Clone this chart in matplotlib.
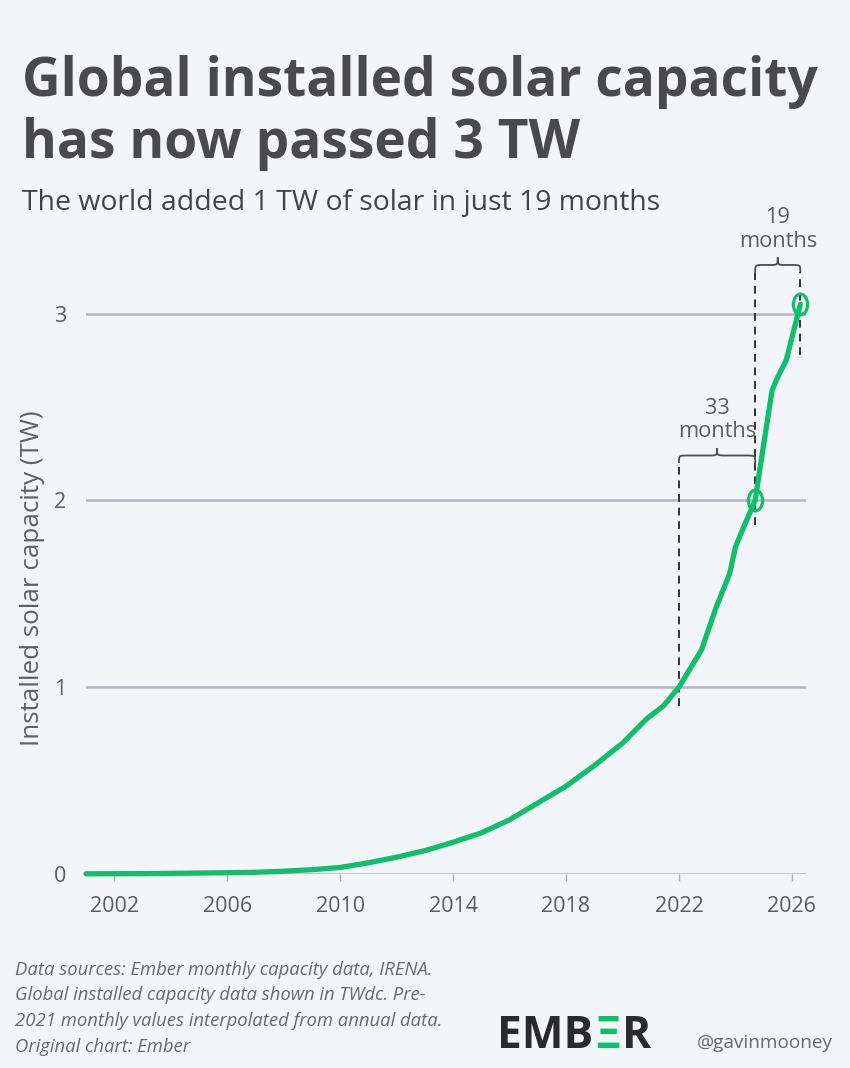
import matplotlib
matplotlib.use("Agg")
import matplotlib.pyplot as plt
from matplotlib import font_manager
from matplotlib.path import Path
from matplotlib.patches import PathPatch
from matplotlib.transforms import Affine2D

# global installed solar capacity (TW)
years = [2001, 2003, 2005, 2007, 2008, 2009, 2010, 2011, 2012, 2013,
         2014, 2015, 2016, 2017, 2018, 2019, 2020, 2020.85, 2021.45, 2022.0,
         2022.8, 2023.3, 2023.8, 2024.0, 2024.3, 2024.7, 2024.95, 2025.3,
         2025.5, 2025.8, 2026.1, 2026.3]
capacity = [0.001, 0.002, 0.005, 0.009, 0.015, 0.023, 0.035, 0.06, 0.09, 0.125,
            0.17, 0.22, 0.29, 0.38, 0.47, 0.58, 0.70, 0.83, 0.90, 1.0,
            1.2, 1.42, 1.61, 1.75, 1.86, 2.0, 2.25, 2.59,
            2.66, 2.75, 2.93, 3.05]

# milestones (2 TW and 3 TW) and the gaps between them
milestone_x = [2024.7, 2026.3]
milestone_y = [2.0, 3.05]
gap_start = [2022.0, 2024.7]
gap_end = [2024.7, 2026.3]
gap_labels = ["33\nmonths", "19\nmonths"]
gap_level = [2.2, 3.22]
dash_x = [2022.0, 2024.7, 2026.3]
dash_lo = [0.9, 1.87, 2.78]
dash_hi = [2.2, 3.22, 3.22]

xticks = [2002, 2006, 2010, 2014, 2018, 2022, 2026]
yticks = [0, 1, 2, 3]

BG = "#f4f5f9"
GREEN = "#0fbf6c"
DARK = "#4a4a4c"
GREY = "#5c5c5e"
GRID = "#b3b6c2"

names = {f.name for f in font_manager.fontManager.ttflist}
FONT = "Liberation Sans Narrow" if "Liberation Sans Narrow" in names else "Open Sans"

fig = plt.figure(figsize=(8.5, 10.68), dpi=100, facecolor=BG)
r = fig.canvas.get_renderer()


def fit(t, width_px):
    w = t.get_window_extent(r).width
    t.set_fontsize(t.get_fontsize() * width_px / w)
    return t


def px(x, y):
    return x / 850, 1 - y / 1068


# ---- titles
t1 = fig.text(*px(22, 96), "Global installed solar capacity", family=FONT,
              weight="bold", color=DARK, fontsize=40, va="baseline")
fit(t1, 796)
fig.text(*px(22, 158), "has now passed 3 TW", family=FONT, weight="bold",
         color=DARK, fontsize=t1.get_fontsize(), va="baseline")
st = fig.text(*px(22, 210), "The world added 1 TW of solar in just 19 months",
              family=FONT, color="#444446", fontsize=18, va="baseline")
fit(st, 638)

# ---- axes
ax = fig.add_axes([86 / 850, 194 / 1068, 720 / 850, 616.5 / 1068])
ax.set_facecolor(BG)
ax.set_xlim(2001, 2026.5)
ax.set_ylim(0, 3.3)
for s in ax.spines.values():
    s.set_visible(False)
ax.set_yticks(yticks)
ax.set_xticks(xticks)
ax.yaxis.grid(True, color=GRID, lw=1.8)
ax.set_axisbelow(True)
tick_size = 18 if FONT == "Liberation Sans Narrow" else 15.5
ax.tick_params(axis="y", length=0, pad=14, labelsize=tick_size, labelcolor=GREY)
ax.tick_params(axis="x", length=5, width=1, color="#a9abb5", pad=11,
               labelsize=tick_size, labelcolor=GREY)
for lab in ax.get_xticklabels() + ax.get_yticklabels():
    lab.set_family(FONT)

yl = fig.text(*px(33, 578), "Installed solar capacity (TW)", family=FONT,
              rotation=90, color="#606062", fontsize=16, ha="center", va="center")
yl_h = yl.get_window_extent(r).height
yl.set_fontsize(yl.get_fontsize() * 336 / yl_h)

# ---- data line and milestones
ax.plot(years, capacity, color=GREEN, lw=3.8, solid_capstyle="round",
        solid_joinstyle="round", zorder=3, clip_on=False)
ell = Path.unit_circle().transformed(Affine2D().scale(0.68, 1.0))
ax.plot(milestone_x, milestone_y, ls="none", marker=ell, ms=15, mfc="none",
        mec=GREEN, mew=2.3, zorder=4, clip_on=False)

# dashed guides
for x, lo, hi in zip(dash_x, dash_lo, dash_hi):
    ax.plot([x, x], [lo, hi], color="#333335", lw=1.4, ls=(0, (4, 3)),
            zorder=2, clip_on=False)


def brace(x0, x1, y, h=0.08, rad=0.3):
    xm = (x0 + x1) / 2
    ym = y + h / 2
    verts = [(x0, y), (x0, ym), (x0, ym), (x0 + rad, ym),
             (xm - rad, ym),
             (xm, ym), (xm, ym), (xm, y + h),
             (xm, ym), (xm, ym), (xm + rad, ym),
             (x1 - rad, ym),
             (x1, ym), (x1, ym), (x1, y)]
    codes = ([Path.MOVETO] + [Path.CURVE4] * 3 + [Path.LINETO] +
             [Path.CURVE4] * 6 + [Path.LINETO] + [Path.CURVE4] * 3)
    ax.add_patch(PathPatch(Path(verts, codes), fill=False, ec="#4d4d4f",
                           lw=1.3, clip_on=False, zorder=2))


for x0, x1, lev, lab in zip(gap_start, gap_end, gap_levels := gap_level, gap_labels):
    brace(x0, x1, lev)
    ax.text((x0 + x1) / 2, lev + 0.11, lab, ha="center", va="bottom",
            family=FONT, color=GREY, fontsize=16, linespacing=1.15,
            clip_on=False)
scale = 78 / ax.texts[0].get_window_extent(r).width
for t in ax.texts:
    t.set_fontsize(t.get_fontsize() * scale)

# ---- footer
foot = ["Data sources: Ember monthly capacity data, IRENA.",
        "Global installed capacity data shown in TWdc. Pre-",
        "2021 monthly values interpolated from annual data.",
        "Original chart: Ember"]
f0 = fig.text(*px(15, 975), foot[0], family=FONT, style="italic", color="#6a6a6c",
              fontsize=13, va="baseline")
fit(f0, 417)
for i, line in enumerate(foot[1:], start=1):
    fig.text(*px(15, 975 + 25.5 * i), line, family=FONT, style="italic",
             color="#6a6a6c", fontsize=f0.get_fontsize(), va="baseline")

# EMBER logo, the E drawn as three green bars
e = fig.text(*px(497, 1048), "EMBER", family=FONT, weight="bold", fontsize=30,
             va="baseline")
fit(e, 150)
size = e.get_fontsize()
e.remove()
x = 497
for part, col in [("EMB", "#2a2a2c"), ("\u039e", GREEN), ("R", "#2a2a2c")]:
    t = fig.text(*px(x, 1048), part, family=FONT, weight="bold", color=col,
                 fontsize=size, va="baseline")
    x = t.get_window_extent(r).x1 + 2

g = fig.text(*px(697, 1048), "@gavinmooney", family=FONT, color="#6a6a6c",
             fontsize=13, va="baseline")
fit(g, 136)

fig.savefig("out.png", dpi=100, facecolor=BG)
